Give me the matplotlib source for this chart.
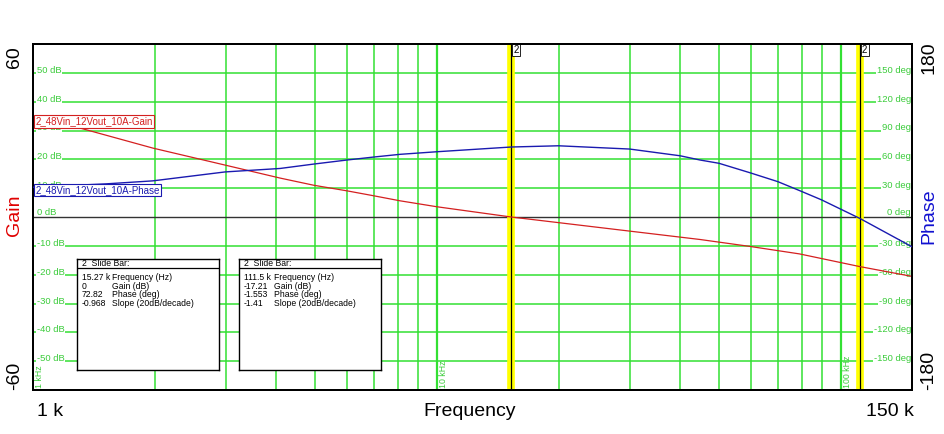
import numpy as np
import matplotlib
matplotlib.use("Agg")
import matplotlib.pyplot as plt

plt.rcParams['font.family'] = ['Liberation Sans', 'DejaVu Sans']

# datos (frecuencia en Hz)
f_gain = [1000, 1235, 1980, 2990, 4090, 4960, 5990, 6980, 8100, 10000,
          15270, 44800, 59500, 79000, 111500, 150000]
gain_db = [34.0, 31.8, 23.9, 18.0, 13.5, 11.0, 9.07, 7.35, 5.62, 3.55,
           0.0, -7.8, -10.2, -12.8, -17.21, -20.6]

f_phase = [1000, 1520, 1980, 2990, 4090, 4960, 5990, 6980, 8100, 10000,
           15270, 20000, 30000, 40000, 44800, 49900, 59500, 69800, 79000,
           89500, 111500, 150000]
phase_deg = [31.0, 34.5, 37.6, 46.9, 50.5, 55.1, 59.3, 62.4, 65.2, 67.9,
             72.82, 74.1, 70.7, 63.7, 59.3, 55.9, 46.1, 36.8, 27.5,
             17.9, -1.553, -31.0]

markers = [15270, 111500]
box1 = ["15.27 k", "0", "72.82", "-0.968"]
box2 = ["111.5 k", "-17.21", "-1.553", "-1.41"]
box_names = ["Frequency (Hz)", "Gain (dB)", "Phase (deg)", "Slope (20dB/decade)"]

db_ticks = [50, 40, 30, 20, 10, -10, -20, -30, -40, -50]
deg_ticks = [150, 120, 90, 60, 30, 0, -30, -60, -90, -120, -150]

verde = '#33e033'
verde_txt = '#3ccc3c'

W, H = 945, 434
fig = plt.figure(figsize=(W / 100, H / 100), dpi=100)
ax = fig.add_axes([33 / W, 1 - 390 / H, 879 / W, 346 / H])
ax.set_xscale('log')
ax.set_xlim(1000, 150000)
ax.set_ylim(-60, 60)
ax.set_xticks([])
ax.set_yticks([])
ax.minorticks_off()

ax2 = ax.twinx()
ax2.set_ylim(-180, 180)
ax2.set_yticks([])

# rejilla
for dec in [1000, 10000, 100000]:
    for m in range(1, 10):
        f = dec * m
        if f <= 1000 or f >= 150000:
            continue
        ax.axvline(f, color=verde, lw=1.6 if m == 1 else 1.1, zorder=1)
for v in db_ticks:
    ax.axhline(v, color=verde, lw=1.1, zorder=1)
    ax.text(0.004, v, "%d dB" % v, transform=ax.get_yaxis_transform(),
            color=verde_txt, fontsize=6.8, va='baseline', ha='left', zorder=2,
            bbox=dict(fc='white', ec='none', pad=0.6))
ax.text(0.004, 0, "0 dB", transform=ax.get_yaxis_transform(),
        color=verde_txt, fontsize=6.8, va='bottom', ha='left', zorder=2)
ax.axhline(0, color='#333333', lw=1.0, zorder=3)

# etiquetas de fase (en ax, para quedar debajo de las curvas)
for d in deg_ticks:
    if d == 0:
        ax.text(0.999, 0, "0 deg", transform=ax2.get_yaxis_transform(),
                color=verde_txt, fontsize=6.8, va='bottom', ha='right', zorder=2)
        continue
    ax.text(0.999, d, "%d deg" % d, transform=ax2.get_yaxis_transform(),
            color=verde_txt, fontsize=6.8, va='baseline', ha='right', zorder=2,
            bbox=dict(fc='white', ec='none', pad=0.6))

for f, t in [(1000, "1 kHz"), (10000, "10 kHz"), (100000, "100 kHz")]:
    ax.text(f * 1.012, -59.3, t, rotation=90, color=verde_txt, fontsize=6.3,
            ha='left', va='bottom', zorder=2)

# barras de marcador
for m in markers:
    ax.axvline(m, color='#ffff00', lw=5.5, zorder=4)
    ax.axvline(m, color='black', lw=0.9, zorder=5)
    ax.text(m * 1.012, 59.6, "2", fontsize=7, ha='left', va='top', zorder=6,
            bbox=dict(fc='white', ec='black', lw=0.6, pad=0.9))

ax.plot(f_gain, gain_db, color='#d42020', lw=0.9, zorder=6)
ax2.plot(f_phase, phase_deg, color='#1a1ab0', lw=1.0, zorder=6)

ax2.text(0.003, 0.777, "2_48Vin_12Vout_10A-Gain", transform=ax2.transAxes,
         color='#d42020', fontsize=7, ha='left', va='center', zorder=10,
         bbox=dict(boxstyle='square,pad=0.15', fc='white', ec='#d42020', lw=0.8))
ax2.text(0.003, 0.578, "2_48Vin_12Vout_10A-Phase", transform=ax2.transAxes,
         color='#1a1ab0', fontsize=7, ha='left', va='center', zorder=10,
         bbox=dict(boxstyle='square,pad=0.15', fc='white', ec='#1a1ab0', lw=0.8))

for sp in list(ax.spines.values()) + list(ax2.spines.values()):
    sp.set_linewidth(1.4)

# cajas "Slide Bar"
def caja(x0, vals):
    b = fig.add_axes([x0 / W, 1 - 370 / H, 142 / W, 111 / H])
    b.set_xlim(0, 1)
    b.set_ylim(0, 1)
    b.set_xticks([])
    b.set_yticks([])
    for sp in b.spines.values():
        sp.set_linewidth(1.0)
    b.axhline(0.918, color='black', lw=0.9)
    b.text(0.035, 0.957, "2  Slide Bar:", fontsize=6.2, va='center', ha='left')
    ys = [0.829, 0.752, 0.676, 0.598]
    for y, v, n in zip(ys, vals, box_names):
        b.text(0.035, y, v, fontsize=6.2, va='center', ha='left')
        b.text(0.25, y, n, fontsize=6.2, va='center', ha='left')

caja(77, box1)
caja(239, box2)

# textos de ejes
fig.text(15 / W, 1 - 57 / H, "60", rotation=90, fontsize=14, ha='center', va='center')
fig.text(15 / W, 1 - 376 / H, "-60", rotation=90, fontsize=14, ha='center', va='center')
fig.text(15 / W, 1 - 215 / H, "Gain", rotation=90, fontsize=14, color='#e00000',
         ha='center', va='center')
fig.text(929 / W, 1 - 58 / H, "180", rotation=90, fontsize=14, ha='center', va='center')
fig.text(929 / W, 1 - 370 / H, "-180", rotation=90, fontsize=14, ha='center', va='center')
fig.text(929 / W, 1 - 216 / H, "Phase", rotation=90, fontsize=14, color='#1010d0',
         ha='center', va='center')
fig.text(50 / W, 1 - 411 / H, "1 k", fontsize=14, ha='center', va='center')
fig.text(470 / W, 1 - 411 / H, "Frequency", fontsize=14, ha='center', va='center')
fig.text(890 / W, 1 - 411 / H, "150 k", fontsize=14, ha='center', va='center')

fig.savefig("out.png", dpi=100)
